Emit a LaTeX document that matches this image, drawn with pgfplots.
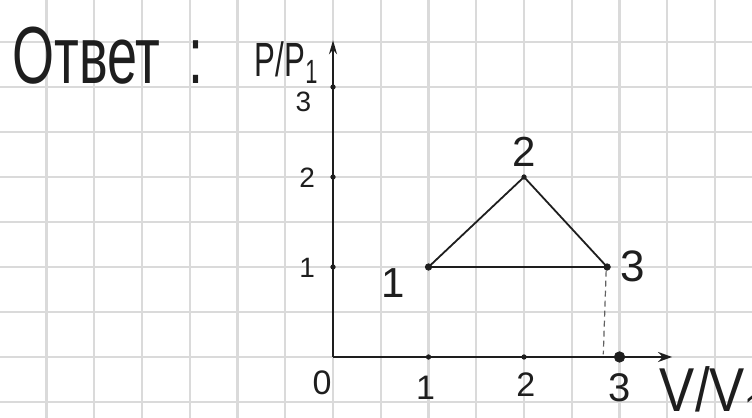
\documentclass[border=0pt]{standalone}
\usepackage{fontspec}
\setmainfont{Liberation Sans}
\usepackage{pgfplots}
\pgfplotsset{compat=1.18}
\usetikzlibrary{arrows.meta}
\definecolor{gridc}{HTML}{DADADA}
\definecolor{ink}{HTML}{1E1E1E}
\newcommand{\fs}[1]{\fontsize{#1}{#1}\selectfont}
\begin{document}
\begin{tikzpicture}
\begin{axis}[
  width=376pt, height=209pt, scale only axis,
  xmin=-3.487, xmax=4.387, ymin=-0.678, ymax=3.967,
  axis lines=none,
  clip=false,
]
% squared paper
\pgfplotsinvokeforeach{-3,-2.5,...,4}{
  \draw[gridc, line width=1.1pt] (axis cs:#1,-0.678) -- (axis cs:#1,3.967);
}
\pgfplotsinvokeforeach{-0.5,0,...,3.5}{
  \draw[gridc, line width=1.1pt] (axis cs:-3.487,#1) -- (axis cs:4.387,#1);
}
% axes
\addplot[ink, line width=1pt, -{Stealth[length=7pt, width=5pt]}] coordinates {(0,0) (3.55,0)};
\addplot[ink, line width=1pt, -{Stealth[length=7pt, width=4pt]}] coordinates {(0,0) (0,3.52)};
% tick dots
\addplot[only marks, mark=*, mark size=1.1pt, ink] coordinates {(1,0) (2,0) (0,1) (0,2) (0,3)};
\addplot[only marks, mark=*, mark size=2.6pt, ink] coordinates {(3,0)};
% cycle
\addplot[ink, line width=0.9pt] coordinates {(1,1) (2,2) (2.87,1) (1,1)};
\addplot[ink!70, line width=0.6pt, dash pattern=on 3pt off 2pt] coordinates {(2.86,0.96) (2.83,0.03)};
\addplot[only marks, mark=*, mark size=1.6pt, ink] coordinates {(1,1) (2.87,1)};
\addplot[only marks, mark=*, mark size=1.1pt, ink] coordinates {(2,2)};
% text
\node[anchor=base west, font=\fs{27}, text=ink, yscale=1.5, inner sep=0pt] at (axis cs:-3.36,3.04) {Ответ\hspace{14pt}:};
\node[anchor=base west, font=\fs{24}, text=ink, xscale=0.65, inner sep=0pt] at (axis cs:-0.82,3.12) {P/P\textsubscript{1}};
\node[font=\fs{14}, text=ink, inner sep=0pt] at (axis cs:-0.31,2.84) {3};
\node[font=\fs{14}, text=ink, inner sep=0pt] at (axis cs:-0.27,1.99) {2};
\node[font=\fs{14}, text=ink, inner sep=0pt] at (axis cs:-0.27,0.99) {1};
\node[font=\fs{17}, text=ink, inner sep=0pt] at (axis cs:-0.115,-0.29) {0};
\node[font=\fs{17}, text=ink, inner sep=0pt] at (axis cs:0.97,-0.34) {1};
\node[font=\fs{17}, text=ink, inner sep=0pt] at (axis cs:2.02,-0.31) {2};
\node[font=\fs{20}, text=ink, inner sep=0pt] at (axis cs:3.0,-0.34) {3};
\node[font=\fs{21}, text=ink, inner sep=0pt] at (axis cs:0.63,0.82) {1};
\node[font=\fs{21}, text=ink, inner sep=0pt] at (axis cs:2.0,2.28) {2};
\node[font=\fs{22}, text=ink, inner sep=0pt] at (axis cs:3.14,1.01) {3};
\node[anchor=base west, font=\fs{31}, text=ink, xscale=0.85, inner sep=0pt] at (axis cs:3.42,-0.61) {V/V\textsubscript{1}};
\end{axis}
\pgfresetboundingbox
\path[use as bounding box] (current axis.south west) rectangle (current axis.north east);
\end{tikzpicture}
\end{document}
